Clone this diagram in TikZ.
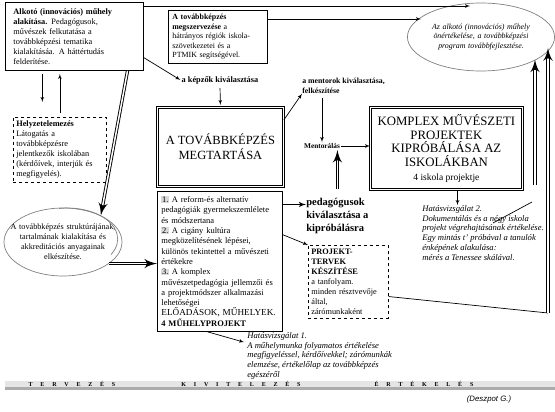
\documentclass[tikz,border=0pt]{standalone}
\usepackage{fontspec}
\setmainfont{Liberation Serif}
\newfontfamily\signfont{Liberation Sans}
\usetikzlibrary{shapes, arrows, positioning}

\newcommand{\numbox}[1]{{\setlength{\fboxsep}{0.6pt}\colorbox{gray!30}{#1}}}

\begin{document}
\begin{tikzpicture}[auto,>=latex', x=1pt, y=-1pt, line width=0.7pt, font=\fontsize{8}{9.8}\selectfont]

\tikzstyle{block} = [draw, shape=rectangle, anchor=north west, align=left, line width=0.9pt, font=\fontsize{8.3}{10}\selectfont]
\tikzstyle{dblock} = [block, dashed, line width=0.7pt]
\tikzstyle{main} = [draw, shape=rectangle, double, double distance=1pt, line width=0.8pt, anchor=north west, align=center]
\tikzstyle{oval} = [draw=gray, shape=ellipse, inner sep=0pt, align=center]
\tikzstyle{caption} = [align=left, anchor=north west, inner sep=0pt, font=\fontsize{7.8}{9.5}\selectfont\bfseries]
\tikzstyle{note} = [align=left, anchor=north west, inner sep=0pt, font=\fontsize{8.6}{9.8}\selectfont\itshape]
\tikzstyle{phase} = [inner sep=0pt, font={\fontsize{6}{6}\selectfont\bfseries\spaceskip=7.8pt\relax}]
\tikzstyle{dbl} = [double, double distance=1.5pt, line width=0.9pt, ->]

\useasboundingbox (0,0) rectangle (555,412);

%Creating Blocks
\node [block, text width=122pt, minimum height=68pt, inner xsep=8pt] at (5,2) (alkoto) {\textbf{Alkotó (innovációs) műhely}\\ \textbf{alakítása.} Pedagógusok,\\ művészek felkutatása a\\ továbbképzési tematika\\ kialakításáa. A háttértudás\\ felderítése.};
\node [block, text width=91pt, minimum height=53pt, inner xsep=4pt, line width=0.8pt, font=\fontsize{7.9}{9.5}\selectfont] at (168,10) (szervezes) {\textbf{A továbbképzés}\\ \textbf{megszervezése} a\\ hátrányos régiók iskola-\\ szövetkezetei és a\\ PTMIK segítségével.};
\node [dblock, text width=87pt, minimum height=65pt, inner xsep=3pt] at (13,117) (helyzet) {\textbf{Helyzetelemezés}\\ Látogatás a\\ továbbképzésre\\ jelentkezők iskolában\\ (kérdőívek, interjúk és\\ megfigyelés).};
\node [main, minimum width=126pt, minimum height=79pt, font=\fontsize{12.5}{15}\selectfont] at (157,107) (megtartas) {A TOVÁBBKÉPZÉS\\ MEGTARTÁSA};
\node [block, text width=117pt, minimum height=140pt, inner xsep=4pt, line width=0.8pt, font=\fontsize{8.5}{10.3}\selectfont] at (157,191) (tematika) {\numbox{1.}\ A reform-és alternatív\\ pedagógiák gyermekszemlélete\\ és módszertana\\ \numbox{2.}\ A cigány kultúra\\ megközelítésének lépései,\\ különös tekintettel a művészeti\\ értékekre\\ \numbox{3.}\ A komplex\\ művészetpedagógia jellemzői és\\ a projektmódszer alkalmazási\\ lehetőségei\\ \mbox{\fontsize{9.2}{10.3}\selectfont ELŐADÁSOK, MŰHELYEK.}\\ \textbf{4 MŰHELYPROJEKT}};
\node [main, minimum width=152pt, minimum height=82pt, font=\fontsize{12.8}{13.8}\selectfont] at (370,107) (komplex) {KOMPLEX MŰVÉSZETI\\ PROJEKTEK\\ KIPRÓBÁLÁSA AZ\\ ISKOLÁKBAN\\ {\fontsize{9.5}{11}\selectfont 4 iskola projektje}};
\node [dblock, text width=74pt, minimum height=73pt, inner xsep=3pt] at (308,245) (projekt) {\textbf{PROJEKT-}\\ \textbf{TERVEK}\\ \textbf{KÉSZÍTÉSE}\\ a tanfolyam.\\ minden résztvevője\\ által,\\ zárómunkaként};
\node [oval, text width=104pt, minimum width=146pt, minimum height=68pt, font=\fontsize{7.9}{9.8}\selectfont\itshape] at (481,37) (ell) {Az alkotó (innovációs) műhely\\ önértékelése, a továbbképzési\\ program továbbfejlesztése.};
\node [oval, text width=108pt, inner xsep=-15pt, minimum width=118pt, minimum height=68pt, font=\fontsize{8.2}{10}\selectfont] at (63,242) (strukt) {A továbbképzés struktúrájának,\\ tartalmának kialakítása és\\ akkreditációs anyagainak\\ elkészítése.};
\draw[gray] (59,208.5) arc[start angle=-100, end angle=30, x radius=50, y radius=31];

%Labels
\node [inner sep=1pt, font=\fontsize{8.3}{10}\selectfont\bfseries] at (220,80) (kepzok) {a képzők kiválasztása};
\node [caption] at (302,78) (mentorok) {a mentorok kiválasztása,\\ felkészítése};
\node [inner sep=1pt, font=\fontsize{7.3}{8}\selectfont\bfseries] at (322,146) (mentoralas) {Mentorálás};
\node [caption, font=\fontsize{10.5}{12.8}\selectfont\bfseries] at (306,198) (pedagogusok) {pedagógusok\\ kiválasztása a\\ kipróbálásra};
\node [note] at (422,205) (hatas2) {Hatásvizsgálat 2.\\ Dokumentálás és a négy iskola\\ projekt végrehajtásának értékelése.\\ Egy mintás t’ próbával a tanulók\\ énképének alakulása:\\ mérés a Tenessee skálával.};
\node [note] at (247,332) (hatas1) {Hatásvizsgálat 1.\\ A műhelymunka folyamatos értékelése\\ megfigyeléssel, kérdőívekkel; zárómunkák\\ elemzése, értékelőlap az továbbképzés\\ egészéről};

%Phases
\fill[gray!20] (5,381) rectangle (555,387);
\fill[gray!65] (5,387) rectangle (555,390);
\node [phase] at (72,384) (terv) {T E R V E Z É S};
\node [phase] at (241,384) (kivit) {K I V I T E L E Z É S};
\node [phase] at (424,384) (ertek) {É R T É K E L É S};
\node [font=\signfont\itshape\fontsize{7.8}{9}\selectfont] at (489,399) (szerzo) {(Deszpot G.)};

%Connection Nodes
\coordinate (e1) at (470,6);
\coordinate (e2) at (421,19);
\coordinate (sarok) at (548,313);
\coordinate (d2) at (535,185);
\coordinate (v1) at (493,223);
\coordinate (v2) at (532,202);

%Conecting Blocks
\draw[->] (alkoto.east |- e1) -- (e1);
\draw[->] (szervezes.east |- e2) -- (e2);
\draw[->] (alkoto.-17) -- (kepzok.west);
\draw[->, shorten <=3pt, shorten >=2pt] (kepzok.south) -- (megtartas.north);
\draw[->] (megtartas.23) -- (mentorok.south west);
\draw[->, shorten <=4pt] (mentorok.south -| mentoralas.north) -- (mentoralas.north);
\draw[->] (mentoralas.east) -- (mentoralas.east -| komplex.west);
\draw[dbl, shorten <=9pt] (pedagogusok.north) -- (pedagogusok.north |- mentoralas.south);
\draw[->, line width=1.4pt] (tematika.east |- pedagogusok.160) -- (pedagogusok.160);
\draw[->] (tematika.23) -- (projekt.north west);
\draw[->, shorten >=3pt] (tematika.-100) -- (hatas1.170);
\draw[->] (komplex.-75) -- (komplex.-75 |- hatas2.north);
\draw[->, shorten <=3pt, shorten >=15pt] (alkoto.-133) -- (alkoto.-133 |- helyzet.north);
\draw[->, shorten <=4pt, shorten >=3pt] (helyzet.north) -- (helyzet.north |- alkoto.south);
\draw[dbl] (alkoto.-33) -- (strukt.35);
\draw[dbl] (strukt.-25) -- (strukt.-25 -| tematika.west);
\draw (projekt.-20) -- (sarok);
\draw[dbl] (sarok) -- (sarok |- ell.-9);
\draw[dbl] (d2) -- (d2 |- ell.-22);
\draw (v1) -- (v2);

\end{tikzpicture}
\end{document}
